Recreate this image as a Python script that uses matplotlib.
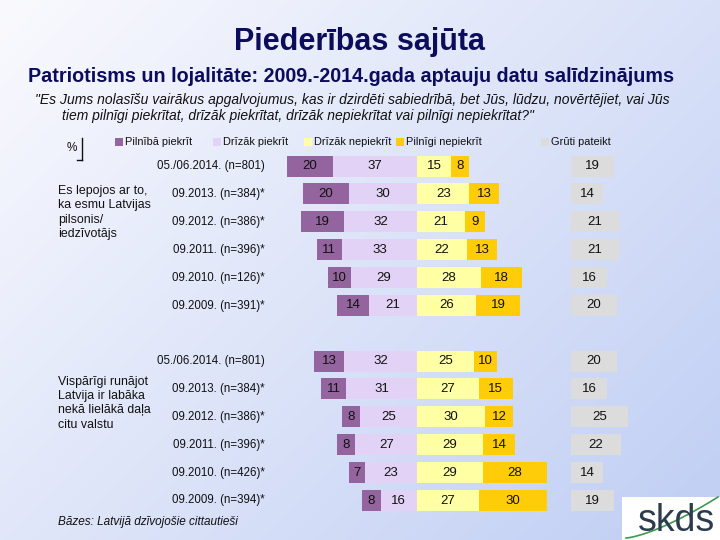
import matplotlib
matplotlib.use("Agg")
import matplotlib.pyplot as plt
import numpy as np
from matplotlib.patches import Rectangle

# ---------------- data ----------------
categories = ["Pilnībā piekrīt", "Drīzāk piekrīt", "Drīzāk nepiekrīt",
              "Pilnīgi nepiekrīt", "Grūti pateikt"]
colors = ["#94649f", "#e2d2f6", "#ffffa4", "#ffcc0a", "#dcdcdc"]

statement1 = "Es lepojos ar to,\nka esmu Latvijas\npilsonis/\niedzīvotājs"
waves1 = ["05./06.2014. (n=801)", "09.2013. (n=384)*", "09.2012. (n=386)*",
          "09.2011. (n=396)*", "09.2010. (n=126)*", "09.2009. (n=391)*"]
full_agree1 = [20, 20, 19, 11, 10, 14]
rather_agree1 = [37, 30, 32, 33, 29, 21]
rather_dis1 = [15, 23, 21, 22, 28, 26]
full_dis1 = [8, 13, 9, 13, 18, 19]
hard1 = [19, 14, 21, 21, 16, 20]

statement2 = "Vispārīgi runājot\nLatvija ir labāka\nnekā lielākā daļa\ncitu valstu"
waves2 = ["05./06.2014. (n=801)", "09.2013. (n=384)*", "09.2012. (n=386)*",
          "09.2011. (n=396)*", "09.2010. (n=426)*", "09.2009. (n=394)*"]
full_agree2 = [13, 11, 8, 8, 7, 8]
rather_agree2 = [32, 31, 25, 27, 23, 16]
rather_dis2 = [25, 27, 30, 29, 29, 27]
full_dis2 = [10, 15, 12, 14, 28, 30]
hard2 = [20, 16, 25, 22, 14, 19]

title = "Piederības sajūta"
subtitle = "Patriotisms un lojalitāte: 2009.-2014.gada aptauju datu salīdzinājums"
question = ("\"Es Jums nolasīšu vairākus apgalvojumus, kas ir dzirdēti sabiedrībā, bet Jūs, lūdzu, novērtējiet, vai Jūs",
            "tiem pilnīgi piekrītat, drīzāk piekrītat, drīzāk nepiekrītat vai pilnīgi nepiekrītat?\"")
footer = "Bāzes: Latvijā dzīvojošie cittautieši"

# ---------------- layout ----------------
W, H = 720, 540
fig = plt.figure(figsize=(7.2, 5.4), dpi=100)

# gradient background
bg = fig.add_axes([0, 0, 1, 1], zorder=0)
yy, xx = np.mgrid[0:1:200j, 0:1:200j]
t = np.clip(0.6 * xx + 0.45 * yy, 0, 1)
c0 = np.array([250, 250, 254]) / 255
c1 = np.array([194, 208, 244]) / 255
img = c0[None, None, :] * (1 - t[..., None]) + c1[None, None, :] * t[..., None]
bg.imshow(img, extent=[0, 1, 0, 1], origin="upper", aspect="auto")
bg.set_axis_off()

NARROW = ["Liberation Sans Narrow", "Liberation Sans", "DejaVu Sans"]
SANS = ["Liberation Sans", "DejaVu Sans"]

def P(x, y):
    return x / W, 1 - y / H

# main axes: x in percentage units, y in pixel rows
C, S = 417.0, 2.28
ax = fig.add_axes([0, 0, 1, 1], zorder=1)
ax.set_xlim(-C / S, (W - C) / S)
ax.set_ylim(H, 0)
ax.set_axis_off()
ax.patch.set_alpha(0)

grey_start = (571 - C) / S
bar_h = 21
row_step = 27.9

def draw_group(y0, fa, ra, rd, fd, hd):
    for i in range(len(fa)):
        y = y0 + i * row_step
        segs = [(-fa[i] - ra[i], fa[i], 0), (-ra[i], ra[i], 1),
                (0, rd[i], 2), (rd[i], fd[i], 3), (grey_start, hd[i], 4)]
        for left, w, ci in segs:
            ax.barh(y, w, left=left, height=bar_h, color=colors[ci], linewidth=0)
            ax.text(left + w / 2, y, str(w), ha="center", va="center",
                    fontsize=9.5, family=SANS, color="#111111")

draw_group(166, full_agree1, rather_agree1, rather_dis1, full_dis1, hard1)
draw_group(361, full_agree2, rather_agree2, rather_dis2, full_dis2, hard2)

# wave labels
for i, lab in enumerate(waves1):
    fig.text(*P(265, 166 + i * row_step), lab, ha="right", va="center",
             fontsize=8.3, family=NARROW, color="#111111")
for i, lab in enumerate(waves2):
    fig.text(*P(265, 361 + i * row_step), lab, ha="right", va="center",
             fontsize=8.3, family=NARROW, color="#111111")

fig.text(*P(58, 185), statement1, ha="left", va="top", fontsize=8.9,
         family=NARROW, linespacing=1.25, color="#111111")
fig.text(*P(58, 376), statement2, ha="left", va="top", fontsize=8.9,
         family=NARROW, linespacing=1.25, color="#111111")

# titles
fig.text(*P(360, 42), title, ha="center", va="center", fontsize=22,
         family=SANS, fontweight="bold", color="#0c0c5c")
fig.text(*P(351, 76), subtitle, ha="center", va="center", fontsize=14.2,
         family=SANS, fontweight="bold", color="#0c0c5c")
fig.text(*P(35, 100), question[0], ha="left", va="center", fontsize=10,
         family=NARROW, style="italic", color="#111111")
fig.text(*P(62, 116), question[1], ha="left", va="center", fontsize=10,
         family=NARROW, style="italic", color="#111111")

# legend
leg_sq = [115, 213, 304, 396, 541]
for sx, lab, col in zip(leg_sq, categories, colors):
    fig.patches.append(Rectangle(P(sx, 146), 8 / W, 8 / H, transform=fig.transFigure,
                                 facecolor=col, edgecolor="none", zorder=2))
    fig.text(*P(sx + 10, 142), lab, ha="left", va="center", fontsize=7.9,
             family=NARROW, color="#111111")

# % mark
fig.text(*P(72, 148), "%", ha="center", va="center", fontsize=8.5,
         family=SANS, color="#111111")
fig.add_artist(plt.Line2D([82 / W, 82 / W], [1 - 138 / H, 1 - 160 / H],
                          transform=fig.transFigure, color="#111111", lw=1))
fig.add_artist(plt.Line2D([77 / W, 82 / W], [1 - 160 / H, 1 - 160 / H],
                          transform=fig.transFigure, color="#111111", lw=1))

# footer
fig.text(*P(58, 522), footer, ha="left", va="center", fontsize=8.5,
         family=NARROW, style="italic", color="#111111")

# logo
fig.patches.append(Rectangle(P(622, 540), 98 / W, 43 / H, transform=fig.transFigure,
                             facecolor="white", edgecolor="none", zorder=2))
lx = np.linspace(626, 718, 50)
ly = 538 - 41 * ((lx - 626) / 92) ** 1.4
fig.add_artist(plt.Line2D(lx / W, 1 - ly / H, transform=fig.transFigure,
                          color="#3a9a50", lw=1.2, zorder=3))
fig.text(*P(677, 521), "skds", ha="center", va="center", fontsize=27,
         family=SANS, color="#2c3c4c", zorder=4)

fig.savefig("out.png", dpi=100)
